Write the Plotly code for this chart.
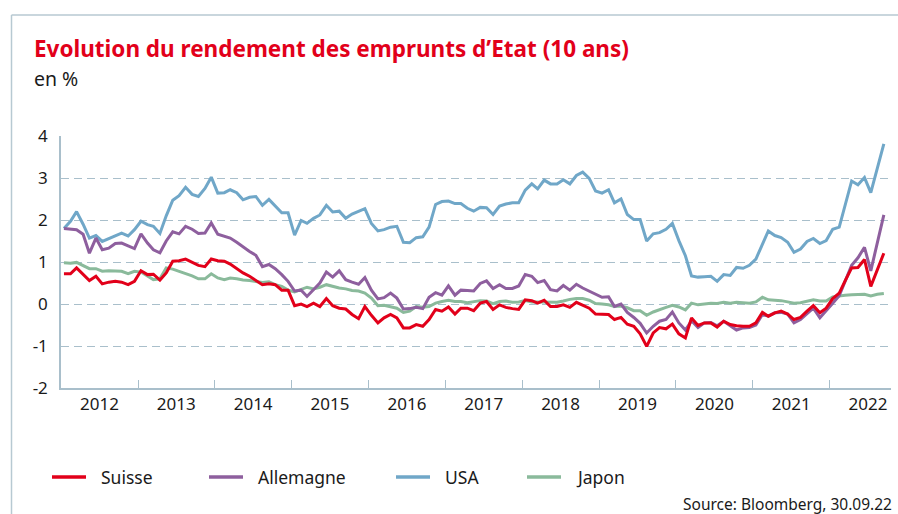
import pandas as pd
import plotly.graph_objects as go

# ---------------- data (10-year government bond yields, %, monthly) ----------------
months = pd.date_range("2012-01-01", "2022-09-01", freq="MS") + pd.Timedelta(days=14)

suisse = [
    0.72, 0.72, 0.86, 0.70, 0.56, 0.66, 0.48, 0.52, 0.54, 0.52, 0.46, 0.54,
    0.79, 0.70, 0.71, 0.57, 0.74, 1.02, 1.03, 1.07, 1.00, 0.92, 0.89, 1.07,
    1.03, 1.02, 0.95, 0.84, 0.74, 0.66, 0.56, 0.46, 0.48, 0.46, 0.33, 0.33,
    -0.04, 0.00, -0.06, 0.02, -0.06, 0.13, -0.04, -0.10, -0.12, -0.25, -0.35, -0.06,
    -0.27, -0.45, -0.33, -0.25, -0.33, -0.57, -0.57, -0.49, -0.53, -0.37, -0.13, -0.17,
    -0.07, -0.24, -0.10, -0.10, -0.16, 0.02, 0.06, -0.13, -0.02, -0.08, -0.11, -0.13,
    0.10, 0.08, 0.02, 0.09, -0.06, -0.06, -0.02, -0.08, 0.04, -0.02, -0.10, -0.24,
    -0.24, -0.25, -0.37, -0.32, -0.48, -0.53, -0.71, -1.01, -0.69, -0.56, -0.59, -0.48,
    -0.71, -0.81, -0.33, -0.51, -0.45, -0.45, -0.55, -0.41, -0.49, -0.52, -0.53, -0.53,
    -0.45, -0.20, -0.29, -0.21, -0.17, -0.24, -0.37, -0.32, -0.17, -0.04, -0.21, -0.10,
    0.13, 0.26, 0.55, 0.86, 0.87, 1.06, 0.42, 0.82, 1.21,
]

allemagne = [
    1.80, 1.79, 1.77, 1.66, 1.21, 1.57, 1.29, 1.33, 1.44, 1.45, 1.39, 1.32,
    1.67, 1.45, 1.29, 1.22, 1.50, 1.72, 1.67, 1.85, 1.78, 1.68, 1.69, 1.93,
    1.66, 1.62, 1.57, 1.47, 1.36, 1.25, 1.16, 0.89, 0.94, 0.84, 0.70, 0.54,
    0.31, 0.33, 0.18, 0.35, 0.50, 0.76, 0.64, 0.79, 0.58, 0.52, 0.47, 0.63,
    0.33, 0.12, 0.15, 0.26, 0.14, -0.12, -0.11, -0.08, -0.11, 0.16, 0.27, 0.21,
    0.43, 0.21, 0.33, 0.32, 0.31, 0.49, 0.55, 0.37, 0.46, 0.37, 0.37, 0.43,
    0.70, 0.66, 0.51, 0.56, 0.34, 0.31, 0.44, 0.33, 0.47, 0.38, 0.30, 0.23,
    0.16, 0.17, -0.06, 0.00, -0.20, -0.32, -0.46, -0.69, -0.53, -0.41, -0.37, -0.19,
    -0.45, -0.62, -0.40, -0.56, -0.45, -0.44, -0.52, -0.41, -0.52, -0.62, -0.57, -0.56,
    -0.50, -0.25, -0.29, -0.21, -0.20, -0.24, -0.45, -0.37, -0.23, -0.10, -0.33, -0.17,
    0.02, 0.20, 0.55, 0.92, 1.10, 1.35, 0.79, 1.46, 2.12,
]

usa = [
    1.80, 1.97, 2.20, 1.90, 1.57, 1.63, 1.49, 1.56, 1.63, 1.69, 1.62, 1.77,
    1.97, 1.89, 1.85, 1.68, 2.10, 2.47, 2.58, 2.78, 2.61, 2.56, 2.75, 3.02,
    2.64, 2.65, 2.72, 2.65, 2.48, 2.54, 2.56, 2.35, 2.49, 2.34, 2.17, 2.17,
    1.64, 1.99, 1.92, 2.04, 2.12, 2.35, 2.19, 2.21, 2.04, 2.14, 2.21, 2.27,
    1.92, 1.74, 1.77, 1.83, 1.85, 1.47, 1.46, 1.58, 1.60, 1.83, 2.37, 2.44,
    2.45, 2.39, 2.39, 2.28, 2.21, 2.30, 2.29, 2.13, 2.33, 2.38, 2.41, 2.41,
    2.71, 2.86, 2.74, 2.95, 2.86, 2.86, 2.96, 2.86, 3.06, 3.14, 2.99, 2.69,
    2.64, 2.72, 2.41, 2.50, 2.13, 2.01, 2.01, 1.50, 1.67, 1.70, 1.78, 1.92,
    1.51, 1.15, 0.67, 0.64, 0.65, 0.66, 0.54, 0.70, 0.68, 0.87, 0.85, 0.92,
    1.07, 1.41, 1.74, 1.63, 1.58, 1.47, 1.23, 1.31, 1.49, 1.56, 1.44, 1.51,
    1.78, 1.83, 2.34, 2.93, 2.84, 3.01, 2.65, 3.20, 3.81,
]

japon = [
    0.98, 0.97, 0.99, 0.91, 0.84, 0.84, 0.78, 0.79, 0.78, 0.78, 0.72, 0.78,
    0.76, 0.67, 0.58, 0.60, 0.86, 0.83, 0.78, 0.71, 0.67, 0.60, 0.60, 0.72,
    0.62, 0.58, 0.62, 0.60, 0.57, 0.56, 0.54, 0.51, 0.53, 0.46, 0.42, 0.33,
    0.29, 0.34, 0.40, 0.36, 0.40, 0.46, 0.42, 0.38, 0.36, 0.32, 0.31, 0.26,
    0.14, -0.04, -0.03, -0.06, -0.10, -0.20, -0.17, -0.06, -0.08, -0.06, 0.02, 0.06,
    0.09, 0.06, 0.06, 0.03, 0.05, 0.08, 0.07, 0.01, 0.06, 0.07, 0.04, 0.05,
    0.08, 0.05, 0.05, 0.05, 0.04, 0.04, 0.07, 0.11, 0.13, 0.13, 0.09, 0.01,
    0.00, -0.02, -0.06, -0.05, -0.09, -0.16, -0.16, -0.27, -0.19, -0.13, -0.08, -0.03,
    -0.07, -0.14, 0.02, -0.02, 0.00, 0.02, 0.01, 0.04, 0.02, 0.04, 0.03, 0.02,
    0.05, 0.16, 0.10, 0.09, 0.08, 0.05, 0.02, 0.03, 0.07, 0.10, 0.07, 0.07,
    0.17, 0.20, 0.21, 0.22, 0.23, 0.23, 0.19, 0.23, 0.25,
]

years = list(range(2012, 2023))
year_labels = [str(y) for y in years]
y_ticks = [-2, -1, 0, 1, 2, 3, 4]

series_names = ["Suisse", "Allemagne", "USA", "Japon"]
series_values = [suisse, allemagne, usa, japon]
series_colors = ["#e2001a", "#8e5f9e", "#70a7c8", "#8aba9b"]

# ---------------- layout geometry ----------------
W, H = 898, 514
L, R, T, B = 61, 7, 136, 126
PW, PH = W - L - R, H - T - B
AXIS_COL = "#a9bfcb"
TEXT_COL = "#1a1a1a"
FONT = "Noto Sans"


def px_x(x):
    return (x - L) / PW


def px_y(y):
    return (H - B - y) / PH


fig = go.Figure()

# draw order: Suisse on top
for name, vals, col in reversed(list(zip(series_names, series_values, series_colors))):
    fig.add_trace(go.Scatter(
        x=months, y=vals, name=name, mode="lines",
        line=dict(color=col, width=3), showlegend=False,
        hovertemplate="%{x|%b %Y}: %{y:.2f}%<extra>" + name + "</extra>",
    ))

shapes = [
    # outer frame
    dict(type="line", xref="paper", yref="paper", x0=px_x(11.5), x1=px_x(905),
         y0=px_y(15), y1=px_y(15), line=dict(color="#b7c9d2", width=1.5)),
    dict(type="line", xref="paper", yref="paper", x0=px_x(11.5), x1=px_x(11.5),
         y0=px_y(15), y1=px_y(520), line=dict(color="#b7c9d2", width=1.5)),
]

annotations = [
    dict(text="<b>Evolution du rendement des emprunts d\u2019Etat (10 ans)</b>",
         xref="paper", yref="paper", x=px_x(32), y=px_y(49), xanchor="left", yanchor="middle",
         showarrow=False, font=dict(family=FONT, size=22.5, color="#e2001a")),
    dict(text="en %", xref="paper", yref="paper", x=px_x(32), y=px_y(79),
         xanchor="left", yanchor="middle", showarrow=False,
         font=dict(family=FONT, size=19.5, color=TEXT_COL)),
    dict(text="Source: Bloomberg, 30.09.22", xref="paper", yref="paper", x=px_x(894), y=px_y(504),
         xanchor="right", yanchor="middle", showarrow=False,
         font=dict(family=FONT, size=15.5, color=TEXT_COL)),
]

# custom legend
leg_line_x = [52, 209, 396, 527]
for name, col, lx in zip(series_names, series_colors, leg_line_x):
    shapes.append(dict(type="line", xref="paper", yref="paper", x0=px_x(lx), x1=px_x(lx + 34),
                       y0=px_y(477), y1=px_y(477), line=dict(color=col, width=3.5)))
    annotations.append(dict(text=name, xref="paper", yref="paper", x=px_x(lx + 47), y=px_y(477),
                            xanchor="left", yanchor="middle", showarrow=False,
                            font=dict(family=FONT, size=17.5, color=TEXT_COL)))

fig.update_layout(
    width=W, height=H,
    margin=dict(l=L, r=R, t=T, b=B, pad=0),
    paper_bgcolor="white", plot_bgcolor="white",
    font=dict(family=FONT, size=17, color=TEXT_COL),
    shapes=shapes, annotations=annotations,
    xaxis=dict(
        type="date",
        range=["2012-01-01", "2022-10-19"],
        showgrid=False, zeroline=False,
        showline=True, linecolor=AXIS_COL, linewidth=1.5,
        tickmode="array",
        tickvals=[f"{y}-07-02" for y in years],
        ticktext=year_labels,
        ticks="", ticklabelstandoff=0,
        tickfont=dict(family=FONT, size=17, color=TEXT_COL),
        minor=dict(tickmode="array", tickvals=[f"{y}-01-01" for y in years[1:]],
                   ticks="inside", ticklen=8, tickwidth=1.3, tickcolor=AXIS_COL, showgrid=False),
    ),
    yaxis=dict(
        range=[-2, 4],
        tickmode="array", tickvals=y_ticks, ticktext=[str(v) for v in y_ticks],
        showgrid=True, gridcolor=AXIS_COL, gridwidth=1.2, griddash="8px,5px",
        zeroline=False,
        showline=True, linecolor=AXIS_COL, linewidth=1.5,
        ticks="", ticklabelstandoff=8,
        tickfont=dict(family=FONT, size=17, color=TEXT_COL),
    ),
)

fig.write_html("out.html", config={"displayModeBar": False},
               post_script="document.body.style.margin='0';document.body.style.overflow='hidden';")
